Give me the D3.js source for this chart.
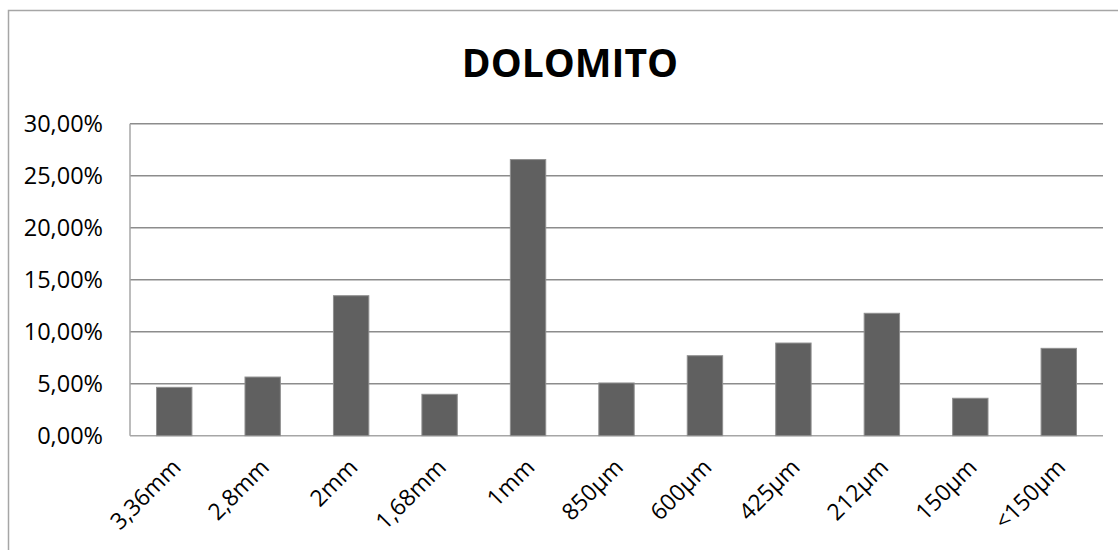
<!DOCTYPE html>
<html>
<head>
<meta charset="utf-8">
<script src="https://cdn.jsdelivr.net/npm/d3@7"></script>
<style>
  body { margin: 0; background: #fff; }
  svg { display: block; font-family: "Open Sans", sans-serif; }
</style>
</head>
<body>
<svg></svg>
<script>
const categories = ['3,36mm', '2,8mm', '2mm', '1,68mm', '1mm', '850µm', '600µm', '425µm', '212µm', '150µm', '<150µm'];
const values = [4.65, 5.64, 13.46, 3.98, 26.55, 5.07, 7.69, 8.91, 11.77, 3.6, 8.4];
const yTicks = [0, 5, 10, 15, 20, 25, 30];

const width = 1118;
const height = 550;

const margin = {top: 123.7, bottom: 114.3, left: 130, right: 15};
const innerWidth = width - margin.left - margin.right;
const innerHeight = height - margin.top - margin.bottom;

const svg = d3.select('svg')
    .attr('width', width)
    .attr('height', height);

// chart frame: only the left and top edges show inside the window
svg.append('path')
    .attr('d', `M8.5,${height} V10.5 H${width}`)
    .attr('fill', 'none')
    .attr('stroke', '#a6a6a6')
    .attr('stroke-width', 1.5);

svg.append('text')
    .attr('x', 570)
    .attr('y', 77)
    .attr('text-anchor', 'middle')
    .attr('font-size', 39)
    .attr('font-weight', 'bold')
    .attr('fill', '#000')
    .text('DOLOMITO');

const g = svg.append('g')
    .attr('transform', `translate(${margin.left}, ${margin.top})`);

const x = d3.scaleBand()
    .domain(categories)
    .range([0, innerWidth])
    .paddingInner(0.6)
    .paddingOuter(0.3);

const y = d3.scaleLinear()
    .domain([0, 30])
    .range([innerHeight, 0]);

// gridlines
g.selectAll('line.grid').data(yTicks)
    .enter().append('line')
        .attr('class', 'grid')
        .attr('x1', 0)
        .attr('x2', innerWidth)
        .attr('y1', d => y(d))
        .attr('y2', d => y(d))
        .attr('stroke', d => d === 0 ? '#a6a6a6' : '#8c8c8c')
        .attr('stroke-width', 1.5);

// left axis line
g.append('line')
    .attr('x1', 0).attr('x2', 0)
    .attr('y1', 0).attr('y2', innerHeight)
    .attr('stroke', '#a6a6a6')
    .attr('stroke-width', 1.5);

// y labels
g.selectAll('text.ylab').data(yTicks)
    .enter().append('text')
        .attr('class', 'ylab')
        .attr('x', -27)
        .attr('y', d => y(d))
        .attr('dy', '0.36em')
        .attr('text-anchor', 'end')
        .attr('font-size', 23.5)
        .attr('fill', '#000')
        .text(d => d3.format('.2f')(d).replace('.', ',') + '%');

// bars
g.selectAll('rect.bar').data(values)
    .enter().append('rect')
        .attr('class', 'bar')
        .attr('x', (d, i) => x(categories[i]))
        .attr('y', d => y(d))
        .attr('width', x.bandwidth())
        .attr('height', d => innerHeight - y(d))
        .attr('fill', '#606060')
        .attr('stroke', '#8f8f8f')
        .attr('stroke-width', 1);

// x labels
g.selectAll('text.xlab').data(categories)
    .enter().append('text')
        .attr('class', 'xlab')
        .attr('transform', d => `translate(${x(d) + x.bandwidth() / 2 + 8}, ${innerHeight + 33}) rotate(-45)`)
        .attr('text-anchor', 'end')
        .attr('font-size', 23)
        .attr('fill', '#000')
        .text(d => d);
</script>
</body>
</html>
